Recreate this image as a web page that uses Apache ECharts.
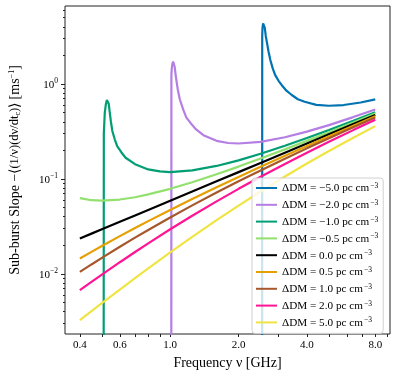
<!DOCTYPE html>
<html>
<head>
<meta charset="utf-8">
<script src="https://cdn.jsdelivr.net/npm/echarts@6.0.0/dist/echarts.min.js"></script>
<style>
  html, body { margin: 0; padding: 0; background: #fff; }
  #chart { width: 397px; height: 376px; }
</style>
</head>
<body>
<div id="chart"></div>
<script>
// frequency grid (GHz) for the curves without a pole
const freqs = [0.4, 0.45, 0.5, 0.6, 0.7, 0.8, 1.0, 1.25, 1.6, 2.0, 2.5, 3.2, 4.0, 5.0, 6.4, 8.0]

// curves with a pole get their own denser grid
const freqsDmM5 = [2.54, 2.542, 2.55, 2.565, 2.585, 2.61, 2.635, 2.67, 2.71, 2.76, 2.83, 2.9, 3.0, 3.1, 3.25, 3.43, 3.65, 3.91, 4.4, 5.0, 5.8, 6.9, 8.0]
const slopeDmM5 = [0.0005, 3.2, 3.9, 4.35, 4.53, 3.9, 3.2, 2.68, 2.2, 1.79, 1.45, 1.24, 1.08, 0.97, 0.85, 0.765, 0.69, 0.65, 0.603, 0.59, 0.6, 0.638, 0.687]

const freqsDmM2 = [1.011, 1.012, 1.016, 1.022, 1.03, 1.038, 1.046, 1.059, 1.08, 1.102, 1.14, 1.177, 1.25, 1.3, 1.4, 1.6, 1.8, 2.0, 2.5, 3.2, 4.0, 5.0, 6.4, 8.0]
const slopeDmM2 = [0.0005, 1.25, 1.45, 1.62, 1.72, 1.75, 1.52, 1.19, 0.87, 0.69, 0.54, 0.445, 0.369, 0.332, 0.289, 0.252, 0.239, 0.236, 0.246, 0.275, 0.315, 0.369, 0.448, 0.539]

const freqsDmM1 = [0.509, 0.510, 0.515, 0.52, 0.526, 0.531, 0.536, 0.541, 0.548, 0.556, 0.57, 0.584, 0.61, 0.636, 0.7, 0.8, 0.9, 1.0, 1.25, 1.6, 2.0, 2.5, 3.2, 4.0, 5.0, 6.4, 8.0]
const slopeDmM1 = [0.0005, 0.3, 0.5, 0.6, 0.68, 0.695, 0.62, 0.51, 0.40, 0.32, 0.26, 0.222, 0.19, 0.167, 0.143, 0.126, 0.12, 0.118, 0.123, 0.137, 0.157, 0.184, 0.224, 0.27, 0.328, 0.41, 0.503]

const slopeDmM05 = [0.0629, 0.0597, 0.059, 0.0607, 0.0642, 0.0687, 0.0787, 0.0922, 0.1119, 0.1349, 0.1639, 0.2048, 0.2517, 0.3105, 0.3929, 0.4873]
const slopeDm0 = [0.0236, 0.02655, 0.0295, 0.0354, 0.0413, 0.0472, 0.059, 0.07375, 0.0944, 0.118, 0.1475, 0.1888, 0.236, 0.295, 0.3776, 0.472]
const slopeDm05 = [0.01452, 0.01707, 0.01967, 0.02499, 0.03043, 0.03596, 0.0472, 0.06146, 0.08164, 0.1049, 0.1341, 0.1751, 0.2221, 0.281, 0.3634, 0.4577]
const slopeDm1 = [0.01049, 0.01258, 0.01475, 0.01931, 0.02409, 0.02905, 0.03933, 0.05268, 0.07192, 0.0944, 0.1229, 0.1633, 0.2098, 0.2682, 0.3502, 0.4442]
const slopeDm2 = [0.00674, 0.00824, 0.00983, 0.01328, 0.01701, 0.02098, 0.0295, 0.04097, 0.05809, 0.07867, 0.1054, 0.1438, 0.1888, 0.2458, 0.3266, 0.4196]
const slopeDm5 = [0.003255, 0.00405, 0.004917, 0.006852, 0.009034, 0.01144, 0.01686, 0.02458, 0.03684, 0.05244, 0.07375, 0.106, 0.1452, 0.1967, 0.2715, 0.3596]

// tick values
const xLabelTicks = [0.4, 0.6, 1.0, 2.0, 4.0, 8.0]
const xMinorTicks = [0.4, 0.5, 0.6, 0.7, 0.8, 0.9, 1, 2, 3, 4, 5, 6, 7, 8, 9]
const yMajorTicks = [0.01, 0.1, 1]
const yMinorTicks = [0.003, 0.004, 0.005, 0.006, 0.007, 0.008, 0.009,
  0.02, 0.03, 0.04, 0.05, 0.06, 0.07, 0.08, 0.09,
  0.2, 0.3, 0.4, 0.5, 0.6, 0.7, 0.8, 0.9, 2, 3, 4, 5, 6]

const curves = [
  { name: '−5.0', x: freqsDmM5, y: slopeDmM5, color: '#0173b2' },
  { name: '−2.0', x: freqsDmM2, y: slopeDmM2, color: '#b57ee3' },
  { name: '−1.0', x: freqsDmM1, y: slopeDmM1, color: '#029e73' },
  { name: '−0.5', x: freqs, y: slopeDmM05, color: '#92e06e' },
  { name: '0.0', x: freqs, y: slopeDm0, color: '#000000' },
  { name: '0.5', x: freqs, y: slopeDm05, color: '#e69f00' },
  { name: '1.0', x: freqs, y: slopeDm1, color: '#a6582c' },
  { name: '2.0', x: freqs, y: slopeDm2, color: '#ff1493' },
  { name: '5.0', x: freqs, y: slopeDm5, color: '#f0e442' }
]

const FONT = 'Liberation Serif'
const xMin = 0.344, xMax = 9.29
const yMin = 0.00233, yMax = 6.62

const chart = echarts.init(document.getElementById('chart'))

const series = curves.map(c => ({
  name: c.name,
  type: 'line',
  data: c.x.map((f, i) => [f, c.y[i]]),
  showSymbol: false,
  smooth: false,
  clip: true,
  animation: false,
  lineStyle: { width: 2.2, color: c.color },
  itemStyle: { color: c.color }
}))

const supFmt = v => {
  const e = Math.round(Math.log10(v))
  return '{b|10}{s|' + (e < 0 ? '−' + (-e) : e) + '}'
}

chart.setOption({
  animation: false,
  textStyle: { fontFamily: FONT },
  grid: {
    left: 59, top: 6, right: 7, bottom: 42,
    show: true, borderColor: '#222', borderWidth: 1
  },
  legend: {
    left: 252, top: 178,
    orient: 'vertical',
    itemWidth: 21, itemHeight: 2,
    itemGap: 4.8,
    padding: [4, 5, 5, 4],
    backgroundColor: 'rgba(255,255,255,0.8)',
    borderColor: '#d0d0d0', borderWidth: 1, borderRadius: 3,
    icon: 'rect',
    formatter: name => '{t|ΔDM = ' + name + ' pc cm}{s|−3}',
    textStyle: {
      fontFamily: FONT, color: '#000',
      rich: {
        t: { fontSize: 11.2, fontFamily: FONT, lineHeight: 12, verticalAlign: 'bottom' },
        s: { fontSize: 7.5, fontFamily: FONT, lineHeight: 12, verticalAlign: 'top', padding: [0, 0, 4, 1] }
      }
    },
    data: curves.map(c => c.name)
  },
  xAxis: {
    type: 'log', min: xMin, max: xMax,
    name: 'Frequency ν [GHz]', nameLocation: 'middle', nameGap: 19,
    nameTextStyle: { fontFamily: FONT, fontSize: 14, color: '#000' },
    axisLine: { show: false },
    splitLine: { show: false },
    axisTick: { show: true, length: 3, customValues: xMinorTicks, lineStyle: { color: '#222' } },
    axisLabel: {
      customValues: xLabelTicks, margin: 6,
      fontFamily: FONT, fontSize: 11, color: '#000',
      formatter: v => v.toFixed(1)
    }
  },
  yAxis: [{
    type: 'log', min: yMin, max: yMax,
    name: 'Sub-burst Slope −⟨{m|(1/ν)(dν/dt}{sub|c}{m|)}⟩ [ms{sup|−1}]',
    nameLocation: 'middle', nameGap: 43, nameRotate: 90,
    nameTextStyle: {
      fontFamily: FONT, fontSize: 14, color: '#000',
      rich: {
        m: { fontFamily: FONT, fontSize: 12.5, color: '#000' },
        sub: { fontFamily: FONT, fontSize: 8, color: '#000', verticalAlign: 'bottom', padding: [4, 0, 0, 0] },
        sup: { fontFamily: FONT, fontSize: 8, color: '#000', verticalAlign: 'top', padding: [0, 0, 5, 0] }
      }
    },
    axisLine: { show: false },
    splitLine: { show: false },
    axisTick: { show: true, length: 4, customValues: yMajorTicks, lineStyle: { color: '#222' } },
    axisLabel: {
      customValues: yMajorTicks, margin: 7,
      formatter: supFmt, color: '#000',
      rich: {
        b: { fontFamily: FONT, fontSize: 11, color: '#000', lineHeight: 14, verticalAlign: 'bottom' },
        s: { fontFamily: FONT, fontSize: 7.5, color: '#000', lineHeight: 14, verticalAlign: 'top' }
      }
    }
  }, {
    type: 'log', min: yMin, max: yMax, position: 'left',
    axisLine: { show: false },
    splitLine: { show: false },
    axisLabel: { show: false },
    axisTick: { show: true, length: 2, customValues: yMinorTicks, lineStyle: { color: '#222' } }
  }],
  series
})
</script>
</body>
</html>
